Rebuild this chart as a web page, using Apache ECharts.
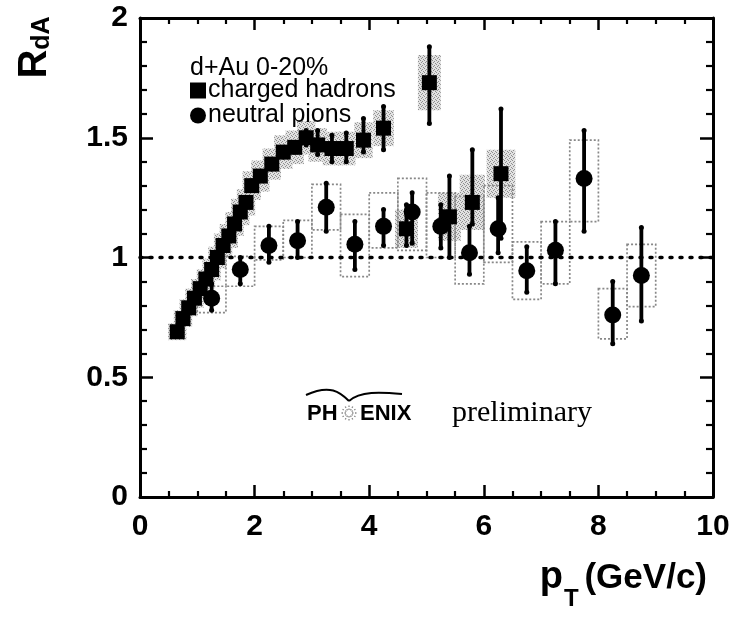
<!DOCTYPE html>
<html><head><meta charset="utf-8">
<script src="https://cdn.jsdelivr.net/npm/echarts@6/dist/echarts.min.js"></script>
<style>html,body{margin:0;padding:0;background:#fff}#c{width:740px;height:621px}</style>
</head><body><div id="c"></div>
<script>
// ---- charged hadrons (squares) ----
const chX     = [0.65,0.75,0.85,0.95,1.05,1.15,1.25,1.35,1.45,1.55,1.65,1.75,1.85,1.95,2.1,2.3,2.5,2.7,2.9,3.1,3.35,3.6,3.9,4.25,4.65,5.05,5.4,5.8,6.3];
const chY     = [0.69,0.745,0.79,0.83,0.87,0.91,0.95,1.00,1.05,1.09,1.14,1.19,1.23,1.30,1.34,1.39,1.44,1.46,1.50,1.47,1.455,1.455,1.49,1.54,1.12,1.73,1.17,1.23,1.35];
const chErrLo = [0.68,0.735,0.78,0.82,0.86,0.90,0.94,0.99,1.04,1.08,1.13,1.18,1.22,1.28,1.32,1.37,1.42,1.44,1.47,1.43,1.40,1.40,1.44,1.45,1.05,1.56,1.00,1.14,1.08];
const chErrHi = [0.70,0.755,0.80,0.84,0.88,0.92,0.96,1.01,1.06,1.10,1.15,1.20,1.24,1.32,1.36,1.41,1.46,1.48,1.53,1.53,1.51,1.52,1.58,1.63,1.22,1.88,1.34,1.45,1.62];
const chSys   = [0.035,0.035,0.035,0.04,0.04,0.04,0.045,0.045,0.05,0.05,0.05,0.055,0.055,0.06,0.065,0.065,0.07,0.07,0.07,0.07,0.07,0.07,0.075,0.075,0.08,0.115,0.1,0.115,0.1];
const chSysDx = [0.16,0.16,0.16,0.16,0.16,0.16,0.16,0.16,0.16,0.16,0.16,0.16,0.16,0.16,0.16,0.16,0.16,0.16,0.16,0.16,0.16,0.16,0.16,0.18,0.2,0.2,0.2,0.22,0.25];

// ---- neutral pions (circles) ----
const piX     = [1.25,1.75,2.25,2.75,3.25,3.75,4.25,4.75,5.25,5.75,6.25,6.75,7.25,7.75,8.25,8.75];
const piY     = [0.83,0.95,1.05,1.07,1.21,1.055,1.13,1.19,1.13,1.02,1.12,0.945,1.03,1.33,0.76,0.925];
const piErrLo = [0.78,0.89,0.98,1.00,1.11,0.95,1.05,1.06,1.04,0.93,1.02,0.855,0.89,1.11,0.64,0.735];
const piErrHi = [0.89,1.00,1.13,1.15,1.31,1.15,1.20,1.27,1.22,1.13,1.25,1.045,1.15,1.53,0.90,1.125];
const piSysLo = [0.77,0.88,0.99,1.00,1.115,0.92,1.04,1.03,1.00,0.89,0.98,0.825,0.89,1.15,0.66,0.795];
const piSysHi = [0.88,1.005,1.13,1.155,1.305,1.18,1.27,1.33,1.27,1.255,1.30,1.065,1.15,1.49,0.87,1.055];
const piBinDx = [0.25,0.25,0.25,0.25,0.25,0.25,0.25,0.25,0.25,0.25,0.25,0.25,0.25,0.25,0.25,0.25];

// ---- reference line R=1 ----
const refX = [0, 10];
const refY = [1, 1];

// ---- axes ----
const xRange = [0, 10], xStep = 2;
const yRange = [0, 2],  yStep = 0.5;

const FONT = '"Liberation Sans", Arial, Helvetica, sans-serif';

// stippled grey fill for the charged-hadron systematic boxes
const pat = document.createElement('canvas');
pat.width = 4; pat.height = 4;
(function () {
  const g = pat.getContext('2d');
  g.fillStyle = '#e2e2e2'; g.fillRect(0, 0, 4, 4);
  g.fillStyle = '#8f8f8f';
  g.fillRect(0, 0, 1, 1); g.fillRect(2, 1, 1, 1); g.fillRect(1, 2, 1, 1); g.fillRect(3, 3, 1, 1);
})();
const stipple = {image: pat, repeat: 'repeat'};

function boxItem(fill, stroke, dash) {
  return function (params, api) {
    const x = api.value(0), lo = api.value(1), hi = api.value(2), dx = api.value(3);
    const a = api.coord([x - dx, hi]), b = api.coord([x + dx, lo]);
    return {type: 'rect',
      shape: {x: a[0], y: a[1], width: b[0] - a[0], height: b[1] - a[1]},
      style: {fill: fill, stroke: stroke, lineWidth: stroke === 'none' ? 0 : 1.7, lineDash: dash}};
  };
}
function errItem(params, api) {
  const x = api.value(0);
  const a = api.coord([x, api.value(1)]), b = api.coord([x, api.value(2)]);
  return {type: 'group', children: [
    {type: 'line', shape: {x1: a[0], y1: a[1], x2: b[0], y2: b[1]}, style: {stroke: '#000', lineWidth: 3.8}},
    {type: 'circle', shape: {cx: a[0], cy: a[1], r: 2.5}, style: {fill: '#000'}},
    {type: 'circle', shape: {cx: b[0], cy: b[1], r: 2.5}, style: {fill: '#000'}}
  ]};
}

function xAxisDef(pos, showLabel) {
  return {type: 'value', position: pos, min: xRange[0], max: xRange[1], interval: xStep,
    axisLine: {show: true, onZero: false, lineStyle: {color: '#000', width: 3}},
    axisTick: {show: true, inside: true, length: 12, lineStyle: {color: '#000', width: 2.5}},
    minorTick: {show: true, splitNumber: 4, length: 6, lineStyle: {color: '#000', width: 2.2}},
    splitLine: {show: false},
    axisLabel: {show: showLabel, color: '#000', fontSize: 30, fontWeight: 'bold', fontFamily: FONT, margin: 15}};
}
function yAxisDef(pos, showLabel) {
  return {type: 'value', position: pos, min: yRange[0], max: yRange[1], interval: yStep,
    axisLine: {show: true, onZero: false, lineStyle: {color: '#000', width: 3}},
    axisTick: {show: true, inside: true, length: 13, lineStyle: {color: '#000', width: 2.5}},
    minorTick: {show: true, splitNumber: 5, length: 7, lineStyle: {color: '#000', width: 2.2}},
    splitLine: {show: false},
    axisLabel: {show: showLabel, color: '#000', fontSize: 30, fontWeight: 'bold', fontFamily: FONT, margin: 12}};
}

// PHENIX sunburst decoration
const star = [];
for (let k = 0; k < 12; k++) {
  const t = k * Math.PI / 6;
  star.push({type: 'line', shape: {x1: 349 + 3 * Math.cos(t), y1: 413 + 3 * Math.sin(t), x2: 349 + 9 * Math.cos(t), y2: 413 + 9 * Math.sin(t)},
    style: {stroke: '#888', lineWidth: 1.3, lineDash: [1.5, 1.5]}});
}

const option = {
  animation: false,
  backgroundColor: '#fff',
  grid: {left: 140, right: 27, top: 18, bottom: 124},
  xAxis: [xAxisDef('bottom', true), xAxisDef('top', false)],
  yAxis: [yAxisDef('left', true), yAxisDef('right', false)],
  legend: {
    data: ['charged hadrons', 'neutral pions'], orient: 'vertical', left: 190, top: 78,
    itemWidth: 16, itemHeight: 16, itemGap: 0, selectedMode: false, padding: 0,
    textStyle: {color: '#000', fontSize: 25, fontFamily: FONT, lineHeight: 22, padding: [0, 0, 0, -3]}
  },
  graphic: [
    {type: 'text', left: 190, top: 56, style: {text: 'd+Au 0-20%', fill: '#000', font: '25px ' + FONT}},
    {type: 'text', x: 35, y: 64, rotation: Math.PI / 2, style: {text: 'R', fill: '#000', font: 'bold 40px ' + FONT, align: 'center', verticalAlign: 'middle'}},
    {type: 'text', x: 42, y: 33, rotation: Math.PI / 2, style: {text: 'dA', fill: '#000', font: 'bold 25px ' + FONT, align: 'center', verticalAlign: 'middle'}},
    {type: 'text', x: 707, y: 578, style: {text: '(GeV/c)', fill: '#000', font: 'bold 35px ' + FONT, align: 'right', verticalAlign: 'middle'}},
    {type: 'text', x: 563, y: 578, style: {text: 'p', fill: '#000', font: 'bold 38px ' + FONT, align: 'right', verticalAlign: 'middle'}},
    {type: 'text', x: 564, y: 599, style: {text: 'T', fill: '#000', font: 'bold 24px ' + FONT, align: 'left', verticalAlign: 'middle'}},
    {type: 'text', x: 307, y: 414, style: {text: 'PH', fill: '#000', font: 'bold 22px ' + FONT, verticalAlign: 'middle'}},
    {type: 'text', x: 360, y: 414, style: {text: 'ENIX', fill: '#000', font: 'bold 22px ' + FONT, verticalAlign: 'middle'}},
    {type: 'text', x: 452, y: 413, style: {text: 'preliminary', fill: '#000', font: '30px "Liberation Serif", "Times New Roman", serif', verticalAlign: 'middle'}},
    {type: 'bezierCurve', shape: {x1: 306, y1: 395, cpx1: 330, cpy1: 384, cpx2: 340, cpy2: 392, x2: 349, y2: 401}, style: {stroke: '#000', lineWidth: 2, fill: 'none'}},
    {type: 'bezierCurve', shape: {x1: 349, y1: 401, cpx1: 360, cpy1: 391, cpx2: 380, cpy2: 392, x2: 402, y2: 394}, style: {stroke: '#000', lineWidth: 2, fill: 'none'}}
  ].concat(star),
  series: [
    {type: 'custom', name: 'chSys', silent: true, z: 1, renderItem: boxItem(stipple, 'none', null),
      data: chX.map((x, i) => [x, chY[i] - chSys[i], chY[i] + chSys[i], chSysDx[i]])},
    {type: 'custom', name: 'piSys', silent: true, z: 2, renderItem: boxItem('none', '#888', [2, 2]),
      data: piX.map((x, i) => [x, piSysLo[i], piSysHi[i], piBinDx[i]])},
    {type: 'line', name: 'ref', silent: true, z: 3, symbol: 'none',
      lineStyle: {color: '#000', width: 3.5, type: [2, 8], cap: 'round'},
      data: refX.map((x, i) => [x, refY[i]])},
    {type: 'custom', name: 'chErr', silent: true, z: 4, renderItem: errItem,
      data: chX.map((x, i) => [x, chErrLo[i], chErrHi[i]])},
    {type: 'custom', name: 'piErr', silent: true, z: 4, renderItem: errItem,
      data: piX.map((x, i) => [x, piErrLo[i], piErrHi[i]])},
    {type: 'scatter', name: 'charged hadrons', z: 5, symbol: 'rect', symbolSize: 15, itemStyle: {color: '#000', opacity: 1},
      data: chX.map((x, i) => [x, chY[i]])},
    {type: 'scatter', name: 'neutral pions', z: 5, symbol: 'circle', symbolSize: 17, itemStyle: {color: '#000', opacity: 1},
      data: piX.map((x, i) => [x, piY[i]])}
  ]
};
const chart = echarts.init(document.getElementById('c'));
chart.setOption(option);
</script>
</body></html>
